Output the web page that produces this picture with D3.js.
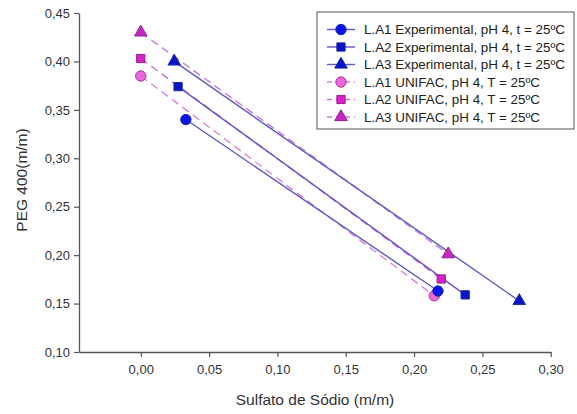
<!DOCTYPE html>
<html><head><meta charset="utf-8">
<script src="https://cdn.jsdelivr.net/npm/d3@7/dist/d3.min.js"></script>
<style>body{margin:0;background:#fff}svg{display:block}text{font-family:"Liberation Sans",Arial,sans-serif}</style>
</head><body>
<svg id="c" width="577" height="414"></svg>
<script>
const seriesNames = [
  "L.A1 Experimental, pH 4, t = 25ºC",
  "L.A2 Experimental, pH 4, t = 25ºC",
  "L.A3 Experimental, pH 4, t = 25ºC",
  "L.A1 UNIFAC, pH 4, T = 25ºC",
  "L.A2 UNIFAC, pH 4, T = 25ºC",
  "L.A3 UNIFAC, pH 4, T = 25ºC"
];
const seriesX = [
  [0.033, 0.2175],
  [0.0273, 0.2374],
  [0.0245, 0.277],
  [0.000, 0.2148],
  [0.000, 0.2199],
  [0.000, 0.225]
];
const seriesY = [
  [0.340, 0.163],
  [0.374, 0.159],
  [0.400, 0.1527],
  [0.385, 0.158],
  [0.403, 0.1754],
  [0.430, 0.201]
];
const xTicks = [0, 0.05, 0.10, 0.15, 0.20, 0.25, 0.30];
const yTicks = [0.10, 0.15, 0.20, 0.25, 0.30, 0.35, 0.40, 0.45];

const shapes = [d3.symbolCircle, d3.symbolSquare, d3.symbolTriangle, d3.symbolCircle, d3.symbolSquare, d3.symbolTriangle];
const sizes = [85, 68, 68, 85, 68, 68];
const fills = ["#0a14e6","#0a14c8","#0a14c8","#ee66dd","#d822c8","#c428c0"];
const strokes = ["#1a2aa0","#1a2aa0","#1a2aa0","#a03aa0","#902090","#902090"];
const lineCol = ["#5a5ac8","#6a50c8","#5a5ac8","#d884d8","#c870d8","#c878d8"];
const dashed = [false,false,false,true,true,true];

const svg = d3.select("#c");
const x = d3.scaleLinear().domain([-0.0452, 0.30]).range([79, 550.7]);
const y = d3.scaleLinear().domain([0.10, 0.45]).range([352, 13]);
const fmt = d => d3.format(".2f")(d).replace(".", ",");

const axCol = "#555";
const xa = svg.append("g").attr("transform","translate(0,352)")
  .call(d3.axisBottom(x).tickValues(xTicks).tickFormat(fmt).tickSize(5).tickSizeOuter(0).tickPadding(8));
const ya = svg.append("g").attr("transform","translate(79,0)")
  .call(d3.axisLeft(y).tickValues(yTicks).tickFormat(fmt).tickSize(5).tickSizeOuter(0).tickPadding(4));
[xa, ya].forEach(a => {
  a.select(".domain").attr("stroke", axCol).attr("stroke-width", 1.3);
  a.selectAll(".tick line").attr("stroke", axCol).attr("stroke-width", 1.2);
  a.selectAll("text").attr("fill", "#333").style("font-size", "13px").style("font-family", '"Liberation Sans",Arial,sans-serif');
});

svg.append("text").attr("x", 315).attr("y", 405).attr("text-anchor","middle")
  .attr("fill","#333").style("font-size","15.5px").text("Sulfato de Sódio (m/m)");
svg.append("text").attr("transform","translate(27,180) rotate(-90)").attr("text-anchor","middle")
  .attr("fill","#333").style("font-size","15.5px").text("PEG 400(m/m)");

const line = d3.line().x(d => x(d[0])).y(d => y(d[1]));
const order = [3,4,5,0,1,2];
order.forEach(i => {
  const pts = seriesX[i].map((v,k) => [v, seriesY[i][k]]);
  svg.append("path").attr("d", line(pts)).attr("fill","none")
    .attr("stroke", lineCol[i]).attr("stroke-width", 1.4)
    .attr("stroke-dasharray", dashed[i] ? "8,5" : null);
});
order.forEach(i => {
  const pts = seriesX[i].map((v,k) => [v, seriesY[i][k]]);
  svg.selectAll(null).data(pts).enter().append("path")
    .attr("d", d3.symbol().type(shapes[i]).size(sizes[i]))
    .attr("transform", d => `translate(${x(d[0])},${y(d[1])})`)
    .attr("fill", fills[i]).attr("stroke", strokes[i]).attr("stroke-width", 1);
});

// legend
const lg = svg.append("g");
lg.append("rect").attr("x", 317).attr("y", 12).attr("width", 257).attr("height", 117)
  .attr("fill","#fff").attr("stroke","#555").attr("stroke-width",1);
seriesNames.forEach((n,i) => {
  const yy = 29.5 + i * 17.5;
  lg.append("line").attr("x1",327).attr("x2",355).attr("y1",yy).attr("y2",yy)
    .attr("stroke", lineCol[i]).attr("stroke-width",1.4).attr("stroke-dasharray", dashed[i] ? "5,4" : null);
  lg.append("path").attr("d", d3.symbol().type(shapes[i]).size(sizes[i]))
    .attr("transform", `translate(341,${yy})`).attr("fill", fills[i]).attr("stroke", strokes[i]);
  lg.append("text").attr("x", 364).attr("y", yy + 4.8).attr("fill","#222")
    .style("font-size","13.4px").text(n);
});
</script>
</body></html>
